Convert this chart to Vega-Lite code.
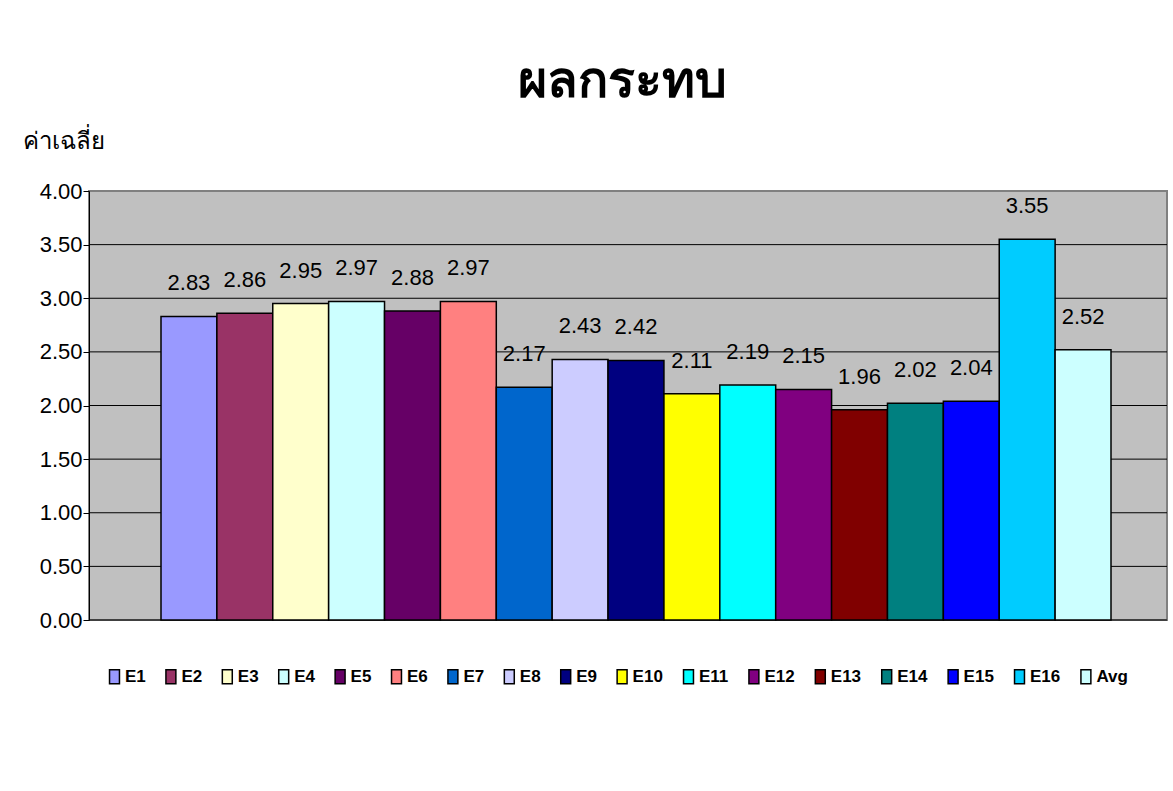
{
  "$schema": "https://vega.github.io/schema/vega-lite/v6.json",
  "width": 1078,
  "height": 429,
  "autosize": {"type": "none"},
  "padding": {"left": 89, "top": 191, "right": 6, "bottom": 171},
  "background": "white",
  "title": {
    "text": "ผลกระทบ",
    "fontSize": 50,
    "fontWeight": "bold",
    "font": "Liberation Sans",
    "color": "black",
    "anchor": "middle",
    "dx": -6,
    "offset": 22
  },
  "datasets": {
    "bars": [
      {"series": "E1", "value": 2.83},
      {"series": "E2", "value": 2.86},
      {"series": "E3", "value": 2.95},
      {"series": "E4", "value": 2.97},
      {"series": "E5", "value": 2.88},
      {"series": "E6", "value": 2.97},
      {"series": "E7", "value": 2.17},
      {"series": "E8", "value": 2.43},
      {"series": "E9", "value": 2.42},
      {"series": "E10", "value": 2.11},
      {"series": "E11", "value": 2.19},
      {"series": "E12", "value": 2.15},
      {"series": "E13", "value": 1.96},
      {"series": "E14", "value": 2.02},
      {"series": "E15", "value": 2.04},
      {"series": "E16", "value": 3.55},
      {"series": "Avg", "value": 2.52}
    ],
    "grid": [
      {"value": 0}, {"value": 0.5}, {"value": 1}, {"value": 1.5}, {"value": 2},
      {"value": 2.5}, {"value": 3}, {"value": 3.5}
    ]
  },
  "layer": [
    {
      "data": {"name": "grid"},
      "mark": {"type": "rule", "color": "black", "strokeWidth": 1},
      "encoding": {
        "y": {
          "field": "value",
          "type": "quantitative",
          "scale": {"domain": [0, 4], "nice": false},
          "axis": {
            "values": [0, 0.5, 1, 1.5, 2, 2.5, 3, 3.5, 4],
            "format": ".2f",
            "grid": false,
            "title": "ค่าเฉลี่ย",
            "titleAngle": 0,
            "titleX": -67,
            "titleY": -38,
            "titleAlign": "left",
            "titleBaseline": "bottom",
            "titleFont": "Liberation Sans",
            "titleFontSize": 24,
            "titleFontWeight": "normal",
            "titleColor": "black",
            "labelFont": "Liberation Sans",
            "labelFontSize": 22,
            "labelColor": "black",
            "labelPadding": 1,
            "tickSize": 6,
            "tickColor": "black",
            "domainColor": "black"
          }
        }
      }
    },
    {
      "data": {"name": "bars"},
      "mark": {"type": "bar", "stroke": "black", "strokeWidth": 1.5},
      "encoding": {
        "x": {
          "field": "series",
          "type": "nominal",
          "sort": null,
          "scale": {"paddingInner": 0, "paddingOuter": 0, "range": [72, 1022]},
          "axis": null
        },
        "y": {"field": "value", "type": "quantitative"},
        "fill": {
          "field": "series",
          "type": "nominal",
          "sort": null,
          "scale": {
            "domain": ["E1","E2","E3","E4","E5","E6","E7","E8","E9","E10","E11","E12","E13","E14","E15","E16","Avg"],
            "range": ["#9999FF","#993366","#FFFFCC","#CCFFFF","#660066","#FF8080","#0066CC","#CCCCFF","#000080","#FFFF00","#00FFFF","#800080","#800000","#008080","#0000FF","#00CCFF","#CCFFFF"]
          },
          "legend": {
            "orient": "none",
            "legendX": 17,
            "legendY": 477,
            "direction": "horizontal",
            "columns": 17,
            "title": null,
            "symbolType": "M-0.71,-1H0.71V1H-0.71Z",
            "symbolSize": 196,
            "symbolStrokeColor": "black",
            "symbolStrokeWidth": 1.5,
            "labelFont": "Liberation Sans",
            "labelFontSize": 17,
            "labelFontWeight": "bold",
            "labelColor": "black",
            "labelOffset": 2,
            "columnPadding": 16.4
          }
        }
      }
    },
    {
      "data": {"name": "bars"},
      "mark": {"type": "text", "baseline": "bottom", "dy": -21, "font": "Liberation Sans", "fontSize": 22, "color": "black"},
      "encoding": {
        "x": {"field": "series", "type": "nominal", "sort": null},
        "y": {"field": "value", "type": "quantitative"},
        "text": {"field": "value", "type": "quantitative", "format": ".2f"}
      }
    }
  ],
  "config": {
    "view": {"fill": "#C0C0C0", "stroke": "#808080", "strokeWidth": 2}
  }
}
